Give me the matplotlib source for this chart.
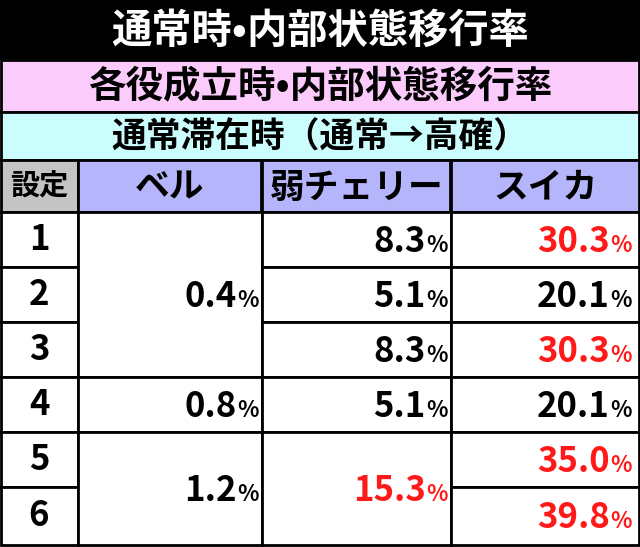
import matplotlib
matplotlib.use("Agg")
import matplotlib.pyplot as plt
from matplotlib.patches import Rectangle

plt.rcParams['font.family'] = ['Noto Sans CJK JP', 'DejaVu Sans']

title = "通常時•内部状態移行率"
sub1 = "各役成立時•内部状態移行率"
sub2 = "通常滞在時（通常→高確）"
headers = ["設定", "ベル", "弱チェリー", "スイカ"]
settings = ["1", "2", "3", "4", "5", "6"]
bell = [("0.4", 0, 3), ("0.8", 3, 4), ("1.2", 4, 6)]
cherry = [("8.3", 0, 1), ("5.1", 1, 2), ("8.3", 2, 3), ("5.1", 3, 4), ("15.3", 4, 6)]
cherry_red = [False, False, False, False, True]
suika = ["30.3", "20.1", "30.3", "20.1", "35.0", "39.8"]
suika_red = [True, False, True, False, True, True]

fig = plt.figure(figsize=(6.4, 5.47), dpi=100)
ax = fig.add_axes([0, 0, 1, 1])
ax.set_xlim(0, 640); ax.set_ylim(547, 0); ax.axis('off')

cols = [0, 78, 262, 451, 640]
rows = [212, 267, 322, 377, 432, 487, 545]
lw = 2

def rect(x0, y0, x1, y1, fc):
    ax.add_patch(Rectangle((x0, y0), x1 - x0, y1 - y0, fc=fc, ec='black', lw=lw))

rect(0, 0, 640, 58, 'black')
ax.text(320, 31, title, color='white', fontsize=29, weight='bold', ha='center', va='center')
rect(1, 60, 639, 112, '#fbccfb')
ax.text(320, 87, sub1, fontsize=27, weight='bold', ha='center', va='center')
rect(1, 112, 639, 160, '#ccfdfd')
ax.text(320, 137, sub2, fontsize=25, weight='bold', ha='center', va='center')
rect(1, 160, cols[1], rows[0], '#c4c4c4')
for i in range(1, 4):
    rect(cols[i], 160, cols[i + 1] - 1, rows[0], '#b5b5fb')
for i, h in enumerate(headers):
    x = (cols[i] + cols[i + 1]) / 2
    ax.text(x, 187, h, fontsize=21 if i == 0 else 25, weight='bold', ha='center', va='center')

def val(xr, y, s, color):
    ax.text(xr - 21, y + 2, s, fontsize=25, weight='bold', ha='right', va='center', color=color)
    ax.text(xr - 21, y + 6, "%", fontsize=16, weight='bold', ha='left', va='center', color=color)

for r, s in enumerate(settings):
    rect(1, rows[r], cols[1], rows[r + 1], 'white')
    ax.text(39, (rows[r] + rows[r + 1]) / 2, s, fontsize=25, weight='bold', ha='center', va='center')
for s, a, b in bell:
    rect(cols[1], rows[a], cols[2], rows[b], 'white')
    val(cols[2] - 4, (rows[a] + rows[b]) / 2, s, 'black')
for (s, a, b), red in zip(cherry, cherry_red):
    rect(cols[2], rows[a], cols[3], rows[b], 'white')
    val(cols[3] - 4, (rows[a] + rows[b]) / 2, s, '#ff1a1a' if red else 'black')
for r, (s, red) in enumerate(zip(suika, suika_red)):
    rect(cols[3], rows[r], 639, rows[r + 1], 'white')
    val(639 - 8, (rows[r] + rows[r + 1]) / 2, s, '#ff1a1a' if red else 'black')

fig.savefig("out.png", dpi=100)
